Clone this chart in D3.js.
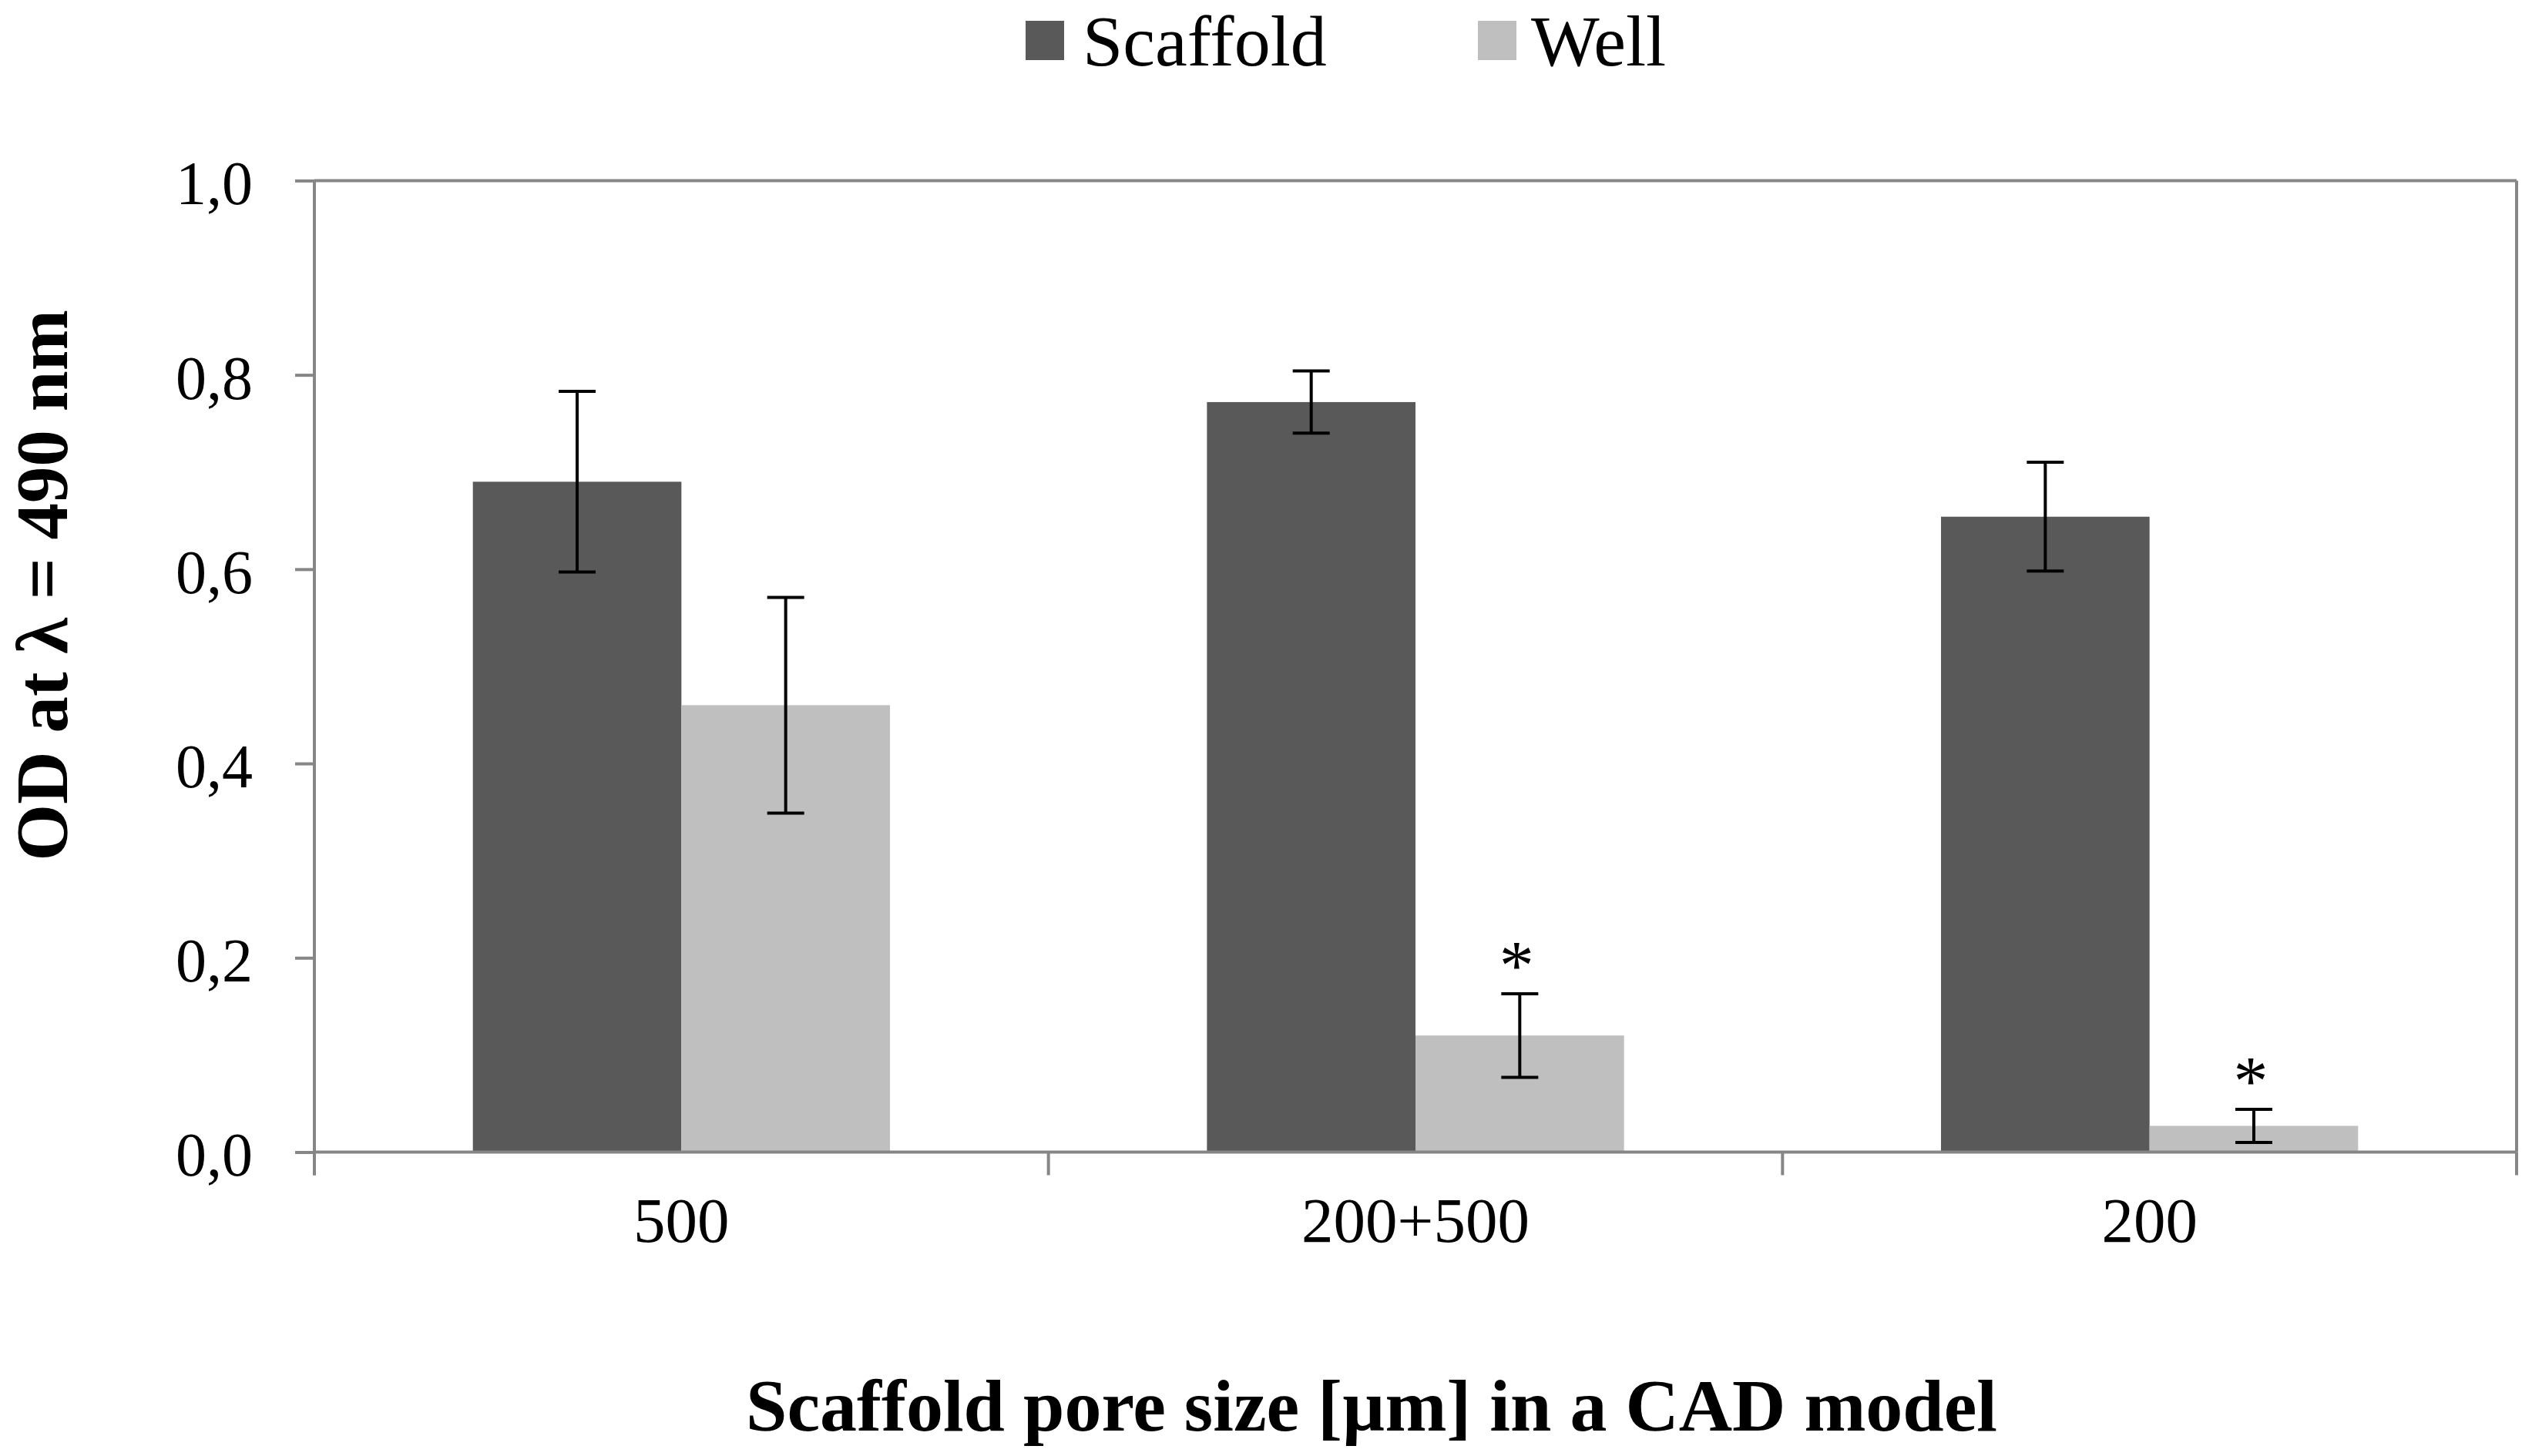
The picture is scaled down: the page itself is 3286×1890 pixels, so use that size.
<!DOCTYPE html>
<html>
<head>
<meta charset="utf-8">
<script src="https://cdn.jsdelivr.net/npm/d3@7/dist/d3.min.js"></script>
<style>
  html, body { margin: 0; padding: 0; background: #fff; }
  svg { display: block; }
  text { font-family: "Liberation Serif", "Times New Roman", serif; }
</style>
</head>
<body>
<svg id="chart" width="3286" height="1890"></svg>
<script>
// ---- data ----
const categories = ["500", "200+500", "200"];
const seriesNames = ["Scaffold", "Well"];
const scaffoldValues = [0.690, 0.772, 0.654];
const scaffoldErrors = [0.093, 0.032, 0.056];
const wellValues = [0.460, 0.120, 0.027];
const wellErrors = [0.111, 0.043, 0.017];
const yTicks = [0.0, 0.2, 0.4, 0.6, 0.8, 1.0];
const significance = [
  { category: "200+500", series: "Well", mark: "*" },
  { category: "200", series: "Well", mark: "*" }
];
const seriesColors = ["#595959", "#bfbfbf"];
const yTitle = "OD at \u03bb = 490 nm";
const xTitle = "Scaffold pore size [\u00b5m] in a CAD model";

// ---- layout ----
const W = 3286, H = 1890;
const plot = { left: 408, right: 3266, top: 234.4, bottom: 1495.5 };
const axisColor = "#868686";

const svg = d3.select("#chart");
svg.append("rect").attr("width", W).attr("height", H).attr("fill", "#fff");

const x = d3.scaleBand().domain(categories).range([plot.left, plot.right]).paddingInner(0).paddingOuter(0);
const xs = d3.scaleBand().domain(seriesNames).range([0, x.bandwidth()]).paddingInner(0).paddingOuter(0.76);
const y = d3.scaleLinear().domain([0, 1]).range([plot.bottom, plot.top]);
const color = d3.scaleOrdinal().domain(seriesNames).range(seriesColors);

const rows = [];
categories.forEach((c, i) => {
  rows.push({ category: c, series: "Scaffold", value: scaffoldValues[i], err: scaffoldErrors[i] });
  rows.push({ category: c, series: "Well", value: wellValues[i], err: wellErrors[i] });
});

// plot frame (top and right border)
svg.append("line").attr("x1", plot.left).attr("x2", plot.right)
  .attr("y1", y(1)).attr("y2", y(1)).attr("stroke", axisColor).attr("stroke-width", 4);
svg.append("line").attr("x1", plot.right).attr("x2", plot.right)
  .attr("y1", y(1)).attr("y2", y(0)).attr("stroke", axisColor).attr("stroke-width", 4);

// bars
svg.append("g").selectAll("rect").data(rows).join("rect")
  .attr("x", d => x(d.category) + xs(d.series))
  .attr("width", xs.bandwidth())
  .attr("y", d => y(d.value))
  .attr("height", d => y(0) - y(d.value))
  .attr("fill", d => color(d.series));

// error bars
const capW = 48;
const eb = svg.append("g").attr("stroke", "#000").attr("stroke-width", 4);
rows.forEach(d => {
  const cx = x(d.category) + xs(d.series) + xs.bandwidth() / 2;
  eb.append("line").attr("x1", cx).attr("x2", cx).attr("y1", y(d.value + d.err)).attr("y2", y(d.value - d.err));
  eb.append("line").attr("x1", cx - capW / 2).attr("x2", cx + capW / 2).attr("y1", y(d.value + d.err)).attr("y2", y(d.value + d.err));
  eb.append("line").attr("x1", cx - capW / 2).attr("x2", cx + capW / 2).attr("y1", y(d.value - d.err)).attr("y2", y(d.value - d.err));
});

// significance marks
significance.forEach(s => {
  const r = rows.find(d => d.category === s.category && d.series === s.series);
  const cx = x(r.category) + xs(r.series) + xs.bandwidth() / 2;
  svg.append("text").attr("x", cx - 4).attr("y", y(r.value + r.err) - 6)
    .attr("text-anchor", "middle").attr("font-size", 90).attr("fill", "#000").text(s.mark);
});

// y axis
const yAxis = d3.axisLeft(y).tickValues(yTicks).tickSize(25).tickPadding(55)
  .tickFormat(v => d3.format(".1f")(v).replace(".", ","));
const gy = svg.append("g").attr("transform", `translate(${plot.left},0)`).call(yAxis);
gy.select(".domain").attr("stroke", axisColor).attr("stroke-width", 4)
  .attr("d", `M0,${y(1)}V${y(0) + 30}`);
gy.selectAll(".tick line").attr("stroke", axisColor).attr("stroke-width", 4);
gy.selectAll(".tick text").attr("font-size", 80).attr("fill", "#000")
  .attr("font-family", "Liberation Serif, Times New Roman, serif").attr("dy", "0.38em");

// x axis
const xAxis = d3.axisBottom(x).tickSize(0).tickPadding(100);
const gx = svg.append("g").attr("transform", `translate(0,${plot.bottom})`).call(xAxis);
gx.select(".domain").attr("stroke", axisColor).attr("stroke-width", 4)
  .attr("d", `M${plot.left},0H${plot.right}`);
gx.selectAll(".tick text").attr("font-size", 83).attr("fill", "#000")
  .attr("font-family", "Liberation Serif, Times New Roman, serif").attr("dy", "0.2em");
const boundaries = categories.map(c => x(c)).concat([x(categories[categories.length - 1]) + x.bandwidth()]);
gx.selectAll("line.bound").data(boundaries).join("line").attr("class", "bound")
  .attr("x1", d => d).attr("x2", d => d).attr("y1", 0).attr("y2", 30)
  .attr("stroke", axisColor).attr("stroke-width", 4);

// axis titles
svg.append("text").attr("x", 1780).attr("y", 1857).attr("text-anchor", "middle")
  .attr("font-size", 96).attr("font-weight", "bold").attr("fill", "#000").text(xTitle);
svg.append("text").attr("transform", "translate(87,760) rotate(-90)").attr("text-anchor", "middle")
  .attr("font-size", 95).attr("font-weight", "bold").attr("fill", "#000").text(yTitle);

// legend
const legendPos = [{ sx: 1331, tx: 1405 }, { sx: 1918, tx: 1987 }];
const lg = svg.append("g");
seriesNames.forEach((s, i) => {
  lg.append("rect").attr("x", legendPos[i].sx).attr("y", 27).attr("width", 50).attr("height", 51).attr("fill", color(s));
  lg.append("text").attr("x", legendPos[i].tx).attr("y", 85).attr("font-size", 94).attr("fill", "#000").text(s);
});
</script>
</body>
</html>
